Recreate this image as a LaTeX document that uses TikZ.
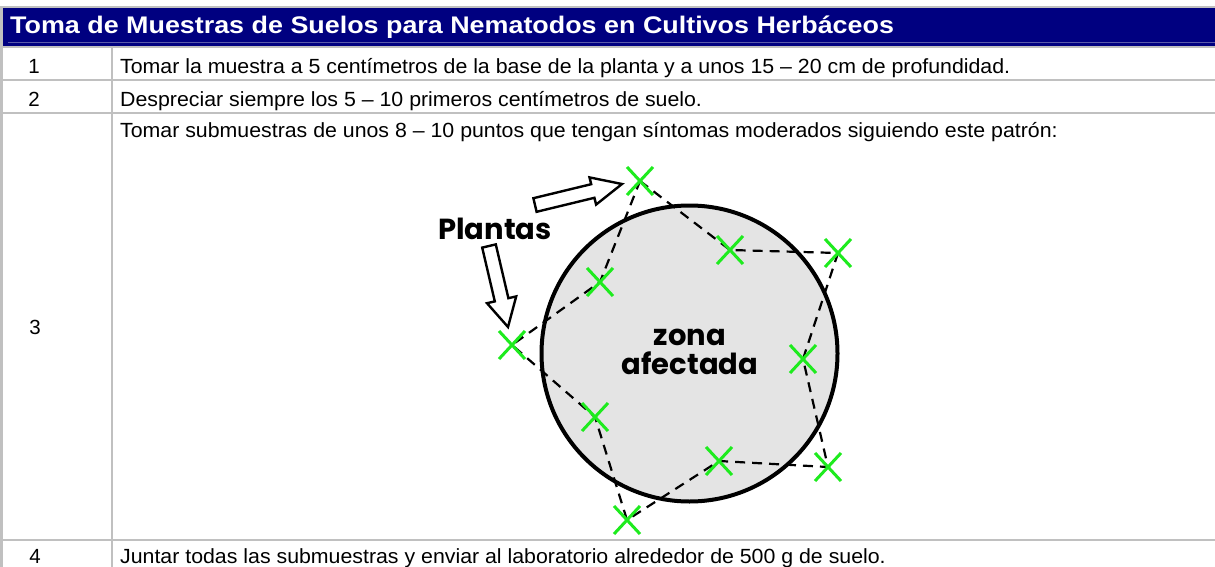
\documentclass[tikz,border=0pt]{standalone}
\usepackage{fontspec}
\usepackage{graphicx}
\setmainfont{Liberation Sans}
\newfontfamily\dispfont{Poppins}
\definecolor{hdrblue}{RGB}{0,0,128}
\definecolor{hdrline}{RGB}{90,90,170}
\definecolor{gridgray}{RGB}{192,192,192}
\definecolor{xgreen}{RGB}{30,235,30}
\definecolor{zonegray}{RGB}{228,228,228}
\newcommand{\bodyt}[1]{\scalebox{1.04}[1]{#1}}
\newcommand{\headt}[1]{\scalebox{1.12}[1]{#1}}
\tikzset{
  gridline/.style={draw=gridgray, line width=2.2pt},
  bodytext/.style={inner sep=0pt, anchor=base west, font=\fontsize{20.5}{24}\selectfont},
  numtext/.style={inner sep=0pt, anchor=base, font=\fontsize{20.5}{24}\selectfont},
  hdrtext/.style={inner sep=0pt, anchor=base west, text=white, font=\fontsize{24}{28}\selectfont\bfseries},
  disptext/.style={inner sep=0pt, anchor=base, align=center, font=\fontsize{29}{29}\selectfont\dispfont\bfseries},
  dashline/.style={draw=black, line width=2.2pt, dash pattern=on 10pt off 7pt},
  hollowarrow/.style={draw=black, fill=white, line width=2.4pt, line join=miter},
  zonecircle/.style={draw=black, fill=zonegray, line width=4pt},
  xmark/.pic={\draw[xgreen, line width=3pt] (-13,-14) -- (13,14) (-13,14) -- (13,-14);}
}
\begin{document}
\begin{tikzpicture}[x=1pt,y=-1pt]
\useasboundingbox (0,0) rectangle (1215,567);
\clip (0,0) rectangle (1215,567);
\fill[white] (0,0) rectangle (1215,567);
% header
\fill[hdrblue] (3,8) rectangle (1215,46);
\draw[hdrline, line width=1pt] (8,42.5) -- (1215,42.5);
\draw[gridline] (0,7) -- (1215,7);
\node[hdrtext] (title) at (10,34) {\headt{Toma de Muestras de Suelos para Nematodos en Cultivos Herbáceos}};
% grid
\draw[gridline] (0,47) -- (1215,47);
\draw[gridline] (0,80) -- (1215,80);
\draw[gridline] (0,113) -- (1215,113);
\draw[gridline] (0,540) -- (1215,540);
\draw[gridline] (1.5,7) -- (1.5,567);
\draw[gridline] (112,47) -- (112,567);
% rows
\node[numtext] (n1) at (34,74) {1};
\node[bodytext] (t1) at (120,74) {\bodyt{Tomar la muestra a 5 centímetros de la base de la planta y a unos 15 – 20 cm de profundidad.}};
\node[numtext] (n2) at (34,107) {2};
\node[bodytext] (t2) at (120,107) {\bodyt{Despreciar siempre los 5 – 10 primeros centímetros de suelo.}};
\node[numtext] (n3) at (35,334) {3};
\node[bodytext] (t3) at (120,138) {\bodyt{Tomar submuestras de unos 8 – 10 puntos que tengan síntomas moderados siguiendo este patrón:}};
\node[numtext] (n4) at (35,563) {4};
\node[bodytext] (t4) at (120,563) {\bodyt{Juntar todas las submuestras y enviar al laboratorio alrededor de 500 g de suelo.}};
% diagram
\node[zonecircle, circle, minimum size=296pt, inner sep=0pt] (zone) at (689.5,353.5) {};
\coordinate (p1) at (640,181);
\coordinate (p2) at (730,250);
\coordinate (p3) at (838,253);
\coordinate (p4) at (803,359);
\coordinate (p5) at (828,467);
\coordinate (p6) at (719,461);
\coordinate (p7) at (627,520);
\coordinate (p8) at (595,417);
\coordinate (p9) at (512,345);
\coordinate (p10) at (600,282);
\draw[dashline] (p1) -- (p2) -- (p3) -- (p4) -- (p5) -- (p6) -- (p7) -- (p8) -- (p9) -- (p10) -- cycle;
\foreach \p in {p1,p2,p3,p4,p5,p6,p7,p8,p9,p10} \pic at (\p) {xmark};
\node[disptext] (zlabel) at (690,345) {zona};
\node[disptext] (alabel) at (690,374) {afectada};
\node[disptext] (plantas) at (495,239) {Plantas};
% arrows
\draw[hollowarrow] (536.6,211.8) -- (594.4,197.8) -- (596.1,204.6) -- (622,184) -- (589.5,177.4) -- (591.2,184.2) -- (533.4,198.2) -- cycle;
\draw[hollowarrow] (482.2,247.6) -- (494.8,301.4) -- (487.0,303.2) -- (508,327) -- (516.2,296.4) -- (508.4,298.2) -- (495.8,244.4) -- cycle;
\end{tikzpicture}
\end{document}
